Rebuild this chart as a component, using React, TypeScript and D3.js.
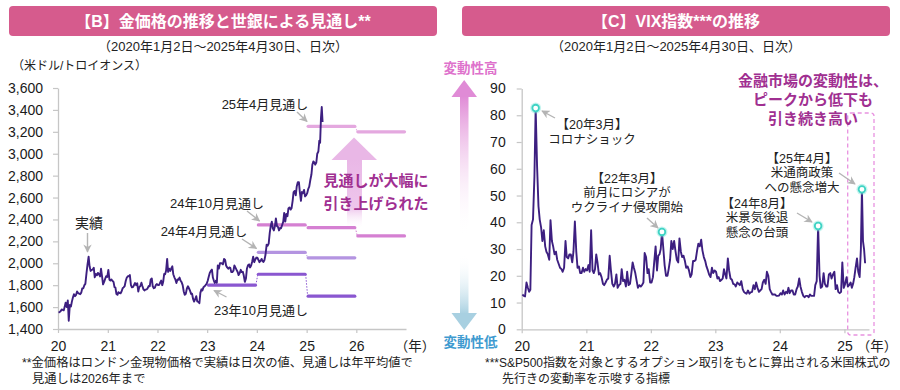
import React, { useEffect, useRef } from 'react';
import * as d3 from 'd3';

// Latin first (compact line box), Japanese glyphs fall back to Noto CJK
const JP = '"Liberation Sans", "Noto Sans CJK JP", sans-serif';
const NUM = '"Liberation Sans", Arial, sans-serif';

// London gold spot (USD/oz), four readings per month, 2020-01 .. 2025-04
const gold2020 = [
  [1550, 1555, 1562, 1578], [1575, 1570, 1602, 1640], [1600, 1660, 1475, 1620],
  [1605, 1650, 1690, 1718], [1700, 1712, 1742, 1728], [1722, 1718, 1732, 1770],
  [1772, 1800, 1812, 1905], [1990, 2060, 1972, 1930], [1940, 1942, 1958, 1872],
  [1902, 1890, 1912, 1900], [1880, 1950, 1878, 1808], [1830, 1860, 1882, 1875],
];
const gold2021 = [
  [1940, 1850, 1842, 1852], [1838, 1830, 1782, 1778], [1720, 1712, 1736, 1728],
  [1726, 1742, 1772, 1780], [1792, 1840, 1868, 1882], [1880, 1892, 1800, 1780],
  [1782, 1802, 1820, 1800], [1818, 1742, 1782, 1792], [1822, 1792, 1762, 1752],
  [1760, 1762, 1770, 1792], [1790, 1850, 1862, 1790], [1772, 1778, 1802, 1810],
];
const gold2022 = [
  [1800, 1802, 1822, 1842], [1800, 1832, 1902, 1900], [1932, 2040, 1922, 1950],
  [1930, 1952, 1972, 1900], [1872, 1850, 1820, 1852], [1850, 1870, 1840, 1828],
  [1800, 1742, 1712, 1722], [1770, 1790, 1772, 1750], [1720, 1722, 1672, 1650],
  [1672, 1700, 1652, 1648], [1636, 1730, 1762, 1752], [1782, 1790, 1800, 1812],
];
const gold2023 = [
  [1840, 1880, 1912, 1930], [1942, 1870, 1842, 1820], [1840, 1822, 1980, 1952],
  [2000, 2002, 1998, 1990], [2040, 2030, 1980, 1962], [1950, 1962, 1958, 1920],
  [1920, 1932, 1980, 1960], [1940, 1920, 1892, 1910], [1940, 1920, 1922, 1888],
  [1830, 1862, 1950, 1982], [1990, 1962, 1980, 2012], [2060, 2010, 2032, 2052],
];
const gold2024 = [
  [2050, 2030, 2010, 2022], [2040, 2020, 2012, 2030], [2080, 2170, 2160, 2180],
  [2280, 2340, 2380, 2320], [2300, 2340, 2410, 2340], [2330, 2300, 2322, 2320],
  [2350, 2380, 2460, 2380], [2450, 2430, 2500, 2510], [2490, 2502, 2570, 2650],
  [2660, 2620, 2700, 2740], [2740, 2650, 2570, 2650], [2640, 2670, 2610, 2620],
];
const gold2025 = [
  [2640, 2680, 2700, 2760], [2810, 2900, 2930, 2920], [2900, 2920, 3000, 3020],
  [3120, 3100, 3320, 3427, 3290],
];

// World Bank outlooks: annual averages starting at the given year
const outlookNames = ['23年10月見通し', '24年4月見通し', '24年10月見通し', '25年4月見通し'];
const outlookStart = [2023, 2024, 2024, 2025];
const outlook2310 = [1800, 1900, 1700];
const outlook2404 = [2100, 2050];
const outlook2410 = [2350, 2325, 2250];
const outlook2504 = [3250, 3200];
const outlookColors = ['#8a57d0', '#b494e1', '#d580d2', '#e4a8df'];

// VIX, four readings per month, 2020-01 .. 2025-04
const vix2020 = [
  [13.0, 12.5, 12.3, 17.5], [15.5, 14.0, 14.8, 39.0], [41.0, 57.0, 82.7, 61.0],
  [46.0, 41.0, 38.0, 33.0], [37.0, 31.0, 29.0, 28.0], [26.0, 40.8, 33.0, 31.0],
  [28.0, 29.0, 26.0, 24.5], [23.0, 22.5, 21.5, 23.0], [33.0, 27.0, 26.5, 28.0],
  [28.0, 25.0, 29.0, 40.3], [29.0, 23.0, 23.5, 21.0], [21.0, 23.0, 21.5, 22.5],
];
const vix2021 = [
  [22.0, 24.0, 21.5, 37.0], [22.0, 21.0, 22.5, 28.0], [25.0, 20.5, 21.0, 19.5],
  [17.0, 16.5, 17.5, 18.5], [19.0, 27.5, 22.0, 17.0], [16.0, 17.0, 20.5, 15.5],
  [16.5, 17.0, 22.5, 18.0], [18.5, 16.0, 21.5, 16.5], [17.0, 20.5, 25.0, 23.0],
  [21.0, 18.0, 15.5, 16.5], [16.0, 16.5, 17.5, 28.5], [27.0, 21.0, 22.5, 17.5],
];
const vix2022 = [
  [17.5, 19.5, 25.0, 31.0], [22.0, 27.5, 28.0, 30.0], [36.4, 30.0, 24.0, 20.0],
  [20.0, 22.5, 26.0, 33.0], [30.0, 33.0, 29.5, 26.0], [25.0, 34.0, 29.0, 27.0],
  [27.5, 25.5, 23.0, 23.5], [22.0, 19.5, 20.5, 25.5], [25.5, 26.0, 29.5, 32.0],
  [31.0, 33.5, 29.5, 27.0], [25.5, 23.5, 22.0, 20.5], [19.5, 23.0, 21.0, 22.0],
];
const vix2023 = [
  [21.5, 19.0, 19.5, 18.0], [18.5, 19.0, 22.5, 20.5], [19.0, 26.5, 22.0, 19.0],
  [18.5, 17.0, 16.8, 16.0], [17.5, 17.0, 16.5, 18.0], [15.0, 14.0, 13.5, 13.3],
  [14.5, 13.3, 13.8, 14.0], [16.5, 15.0, 17.5, 15.5], [14.0, 14.5, 15.0, 17.5],
  [18.5, 17.0, 21.5, 20.0], [15.0, 14.0, 13.0, 13.0], [13.0, 12.5, 12.5, 12.6],
];
const vix2024 = [
  [13.5, 13.0, 14.5, 13.0], [14.0, 13.5, 15.5, 13.5], [14.5, 14.5, 13.0, 13.0],
  [15.0, 16.0, 19.0, 16.0], [14.0, 12.5, 12.0, 12.5], [12.5, 12.0, 13.0, 12.5],
  [12.5, 12.5, 16.5, 18.0], [38.6, 20.0, 15.5, 16.0], [21.0, 17.0, 16.0, 16.0],
  [20.5, 21.0, 19.0, 20.5], [21.5, 15.0, 16.5, 14.0], [13.5, 14.0, 25.0, 15.5],
];
const vix2025 = [
  [17.0, 19.5, 16.0, 16.5], [17.5, 15.5, 17.0, 19.5], [23.0, 26.5, 21.5, 19.5],
  [30.0, 52.3, 33.0, 30.0, 24.7],
];

// peaks that get a marker: [year, month index]
const vixPeaks: [number, number][] = [[2020, 2], [2022, 2], [2024, 7], [2025, 3]];

const goldTicks = d3.range(1400, 3601, 200);
const vixTicks = d3.range(0, 91, 10);
const goldYearTicks = [2020, 2021, 2022, 2023, 2024, 2025, 2026];
const vixYearTicks = [2020, 2021, 2022, 2023, 2024, 2025];

type Pt = { date: Date; value: number };

const toSeries = (years: number[][][]): Pt[] => {
  const out: Pt[] = [];
  years.forEach((months, yi) =>
    months.forEach((vals, mi) => {
      const y = 2020 + yi;
      const dim = new Date(y, mi + 1, 0).getDate();
      vals.forEach((v, k) => {
        out.push({ date: new Date(y, mi, 1 + Math.round(((k + 0.5) * dim) / vals.length)), value: v });
      });
    })
  );
  return out;
};

const App: React.FC = () => {
  const ref = useRef<SVGSVGElement>(null);

  useEffect(() => {
    if (!ref.current) return;
    const svg = d3.select(ref.current);
    svg.selectAll('*').remove();

    const defs = svg.append('defs');
    defs.append('marker')
      .attr('id', 'arr').attr('viewBox', '0 0 10 10').attr('refX', 9).attr('refY', 5)
      .attr('markerWidth', 6).attr('markerHeight', 6).attr('orient', 'auto')
      .append('path').attr('d', 'M0,0 L10,5 L0,10 L3,5 z').attr('fill', '#b4b4b4');
    const grad = (id: string, stops: [number, string, number][]) => {
      const lg = defs.append('linearGradient').attr('id', id).attr('x1', 0).attr('x2', 0).attr('y1', 0).attr('y2', 1);
      stops.forEach(([o, c, op]) => lg.append('stop').attr('offset', o).attr('stop-color', c).attr('stop-opacity', op));
    };
    grad('bigUp', [[0, '#e9b7e6', 1], [0.7, '#eec6ec', 1], [1, '#ffffff', 0]]);
    grad('pinkUp', [[0, '#e08bd6', 1], [1, '#ffffff', 0]]);
    grad('blueDown', [[0, '#ffffff', 0], [1, '#a8d0e1', 1]]);

    // one <text>, one or more lines: each line is [x, y, string]
    const txt = (lines: [number, number, string][], size: number, opts: any = {}) => {
      const t = svg.append('text')
        .attr('font-family', opts.font || JP)
        .attr('font-size', size)
        .attr('font-weight', opts.bold ? 'bold' : 'normal')
        .attr('fill', opts.fill || '#222')
        .attr('text-anchor', opts.anchor || 'start');
      lines.forEach(([x, y, s]) => t.append('tspan').attr('x', x).attr('y', y).text(s));
      return t;
    };
    const arrow = (x1: number, y1: number, x2: number, y2: number) =>
      svg.append('line').attr('x1', x1).attr('y1', y1).attr('x2', x2).attr('y2', y2)
        .attr('stroke', '#b4b4b4').attr('stroke-width', 1.4).attr('marker-end', 'url(#arr)');

    // ---- title bars
    [[9, 223, '【B】金価格の推移と世銀による見通し**'], [462, 676, '【C】VIX指数***の推移']].forEach(([x, cx, t]) => {
      svg.append('rect').attr('x', x as number).attr('y', 6).attr('width', 428).attr('height', 30)
        .attr('rx', 4).attr('fill', '#d65b8d');
      txt([[cx as number, 27, t as string]], 16, { bold: true, fill: '#fff', anchor: 'middle' });
      txt([[cx as number, 50.5, '（2020年1月2日～2025年4月30日、日次）']], 13, { anchor: 'middle' });
    });

    // =========== LEFT: gold
    const gx = d3.scaleTime().domain([new Date(2020, 0, 1), new Date(2027, 0, 1)]).range([58, 406]);
    const gy = d3.scaleLinear().domain([1400, 3600]).range([329, 88]);

    txt([[12, 70, '（米ドル/トロイオンス）']], 12);

    const styleAxis = (g: any) => {
      g.select('.domain').attr('stroke', '#c6c6c6').attr('stroke-width', 1.3);
      g.selectAll('.tick line').attr('stroke', '#c6c6c6').attr('stroke-width', 1.2);
      g.selectAll('.tick text').attr('font-family', NUM).attr('font-size', 14).attr('fill', '#1a1a1a');
    };

    svg.append('g').attr('transform', 'translate(58,0)')
      .call(d3.axisLeft(gy).tickValues(goldTicks).tickFormat(d3.format(',') as any).tickSize(5).tickSizeOuter(0).tickPadding(10))
      .call(styleAxis);
    svg.append('g').attr('transform', 'translate(0,329)')
      .call(d3.axisBottom(gx).tickValues(goldYearTicks.map(y => new Date(y, 0, 1)))
        .tickFormat((d: any) => String(d.getFullYear() % 100)).tickSize(4).tickSizeOuter(0).tickPadding(8))
      .call(styleAxis);
    txt([[415, 350.5, '（年）']], 13.5, { anchor: 'middle' });

    // big pink arrow behind text
    svg.append('rect').attr('x', 347).attr('y', 159).attr('width', 15).attr('height', 70).attr('fill', 'url(#bigUp)');
    svg.append('path').attr('d', 'M331.5,160 L354,137.5 L377,160 Z').attr('fill', '#e9b7e6');

    // outlook segments
    const outlooks = [outlook2310, outlook2404, outlook2410, outlook2504];
    outlooks.forEach((vals, i) => {
      const s0 = outlookStart[i];
      const col = outlookColors[i];
      vals.forEach((v, k) => {
        const xa = gx(new Date(s0 + k, 0, 1)) + 1.5;
        const xb = gx(new Date(s0 + k + 1, 0, 1)) - 1.5;
        svg.append('line').attr('x1', xa).attr('x2', xb).attr('y1', gy(v)).attr('y2', gy(v))
          .attr('stroke', col).attr('stroke-width', 3.2).attr('stroke-linecap', 'round');
        if (k < vals.length - 1) {
          const xc = gx(new Date(s0 + k + 1, 0, 1));
          svg.append('line').attr('x1', xc - 1).attr('x2', xc + 1).attr('y1', gy(v)).attr('y2', gy(vals[k + 1]))
            .attr('stroke', col).attr('stroke-width', 1).attr('stroke-dasharray', '1.5,1.5');
        }
      });
    });

    const goldSeries = toSeries([gold2020, gold2021, gold2022, gold2023, gold2024, gold2025]);
    svg.append('path').datum(goldSeries)
      .attr('d', d3.line<Pt>().x(d => gx(d.date)).y(d => gy(d.value)) as any)
      .attr('fill', 'none').attr('stroke', '#3d1f80').attr('stroke-width', 1.9).attr('stroke-linejoin', 'round');

    // labels
    txt([[89, 228, '実績']], 14, { anchor: 'middle' });
    arrow(87.5, 233, 87.5, 252);
    txt([[265, 109, outlookNames[3]]], 13, { anchor: 'middle' });
    arrow(297, 112, 307, 121.5);
    txt([[217, 208, outlookNames[2]]], 13, { anchor: 'middle' });
    arrow(247, 211, 259.5, 221);
    txt([[204, 236, outlookNames[1]]], 13, { anchor: 'middle' });
    arrow(242, 239, 256.5, 248.5);
    txt([[261, 315, outlookNames[0]]], 13, { anchor: 'middle' });
    arrow(226.5, 297, 214, 290.5);

    txt([[376, 186, '見通しが大幅に'], [376, 209, '引き上げられた']], 15,
      { bold: true, fill: '#a02f91', anchor: 'middle' });

    txt([[22, 367, '**金価格はロンドン金現物価格で実績は日次の値、見通しは年平均値で'],
      [32, 383, '見通しは2026年まで']], 12.3);

    // =========== RIGHT: VIX
    const vx = d3.scaleTime().domain([new Date(2020, 0, 1), new Date(2025, 4, 20)]).range([521.7, 869]);
    const vy = d3.scaleLinear().domain([0, 90]).range([329.3, 88.5]);

    // volatility arrows
    svg.append('rect').attr('x', 460).attr('y', 96).attr('width', 8.5).attr('height', 140).attr('fill', 'url(#pinkUp)');
    svg.append('path').attr('d', 'M451.5,97 L464.2,80 L477,97 Z').attr('fill', '#e08bd6');
    svg.append('rect').attr('x', 460).attr('y', 254).attr('width', 8.5).attr('height', 60).attr('fill', 'url(#blueDown)');
    svg.append('path').attr('d', 'M451.5,313 L464.2,330 L477,313 Z').attr('fill', '#a8d0e1');
    txt([[470.5, 73, '変動性高']], 13.5, { bold: true, fill: '#de72cc', anchor: 'middle' });
    txt([[470.5, 347, '変動性低']], 13.5, { bold: true, fill: '#3f9bd0', anchor: 'middle' });

    svg.append('g').attr('transform', 'translate(521.7,0)')
      .call(d3.axisLeft(vy).tickValues(vixTicks).tickSize(5).tickSizeOuter(0).tickPadding(11))
      .call(styleAxis);
    svg.append('g').attr('transform', 'translate(0,329.3)')
      .call(d3.axisBottom(vx).tickValues(vixYearTicks.map(y => new Date(y, 0, 1)))
        .tickFormat((d: any) => String(d.getFullYear() % 100)).tickSize(4).tickSizeOuter(0).tickPadding(8))
      .call(styleAxis);
    txt([[877, 350.5, '（年）']], 13.5, { anchor: 'middle' });

    // dashed highlight box
    svg.append('rect').attr('x', 847.7).attr('y', 113).attr('width', 26.3).attr('height', 222)
      .attr('rx', 3).attr('fill', 'none').attr('stroke', '#e892e0').attr('stroke-width', 1.3)
      .attr('stroke-dasharray', '4,3');

    const vixSeries = toSeries([vix2020, vix2021, vix2022, vix2023, vix2024, vix2025]);
    svg.append('path').datum(vixSeries)
      .attr('d', d3.line<Pt>().x(d => vx(d.date)).y(d => vy(d.value)) as any)
      .attr('fill', 'none').attr('stroke', '#3d1f80').attr('stroke-width', 1.9).attr('stroke-linejoin', 'round');

    vixPeaks.forEach(([yr, mo]) => {
      const pts = vixSeries.filter(d => d.date.getFullYear() === yr && d.date.getMonth() === mo);
      const p = pts.reduce((a, b) => (b.value > a.value ? b : a));
      const cx = vx(p.date);
      const cy = vy(p.value);
      svg.append('circle').attr('cx', cx).attr('cy', cy).attr('r', 5.5).attr('fill', '#7ee6dc').attr('opacity', 0.45);
      svg.append('circle').attr('cx', cx).attr('cy', cy).attr('r', 3.3).attr('fill', '#fff')
        .attr('stroke', '#3fd3c4').attr('stroke-width', 1.8);
    });

    const ann = 12.5;
    const lh = 14.6;
    const block = (cx: number, top: number, lines: string[]) =>
      txt(lines.map((s, i) => [cx, top + i * lh, s] as [number, number, string]), ann, { anchor: 'middle' });
    block(592, 129, ['【20年3月】', 'コロナショック']);
    arrow(555, 118, 542, 111);
    block(627, 182.5, ['【22年3月】', '前月にロシアが', 'ウクライナ侵攻開始']);
    arrow(647, 218, 658, 228);
    block(757, 207.5, ['【24年8月】', '米景気後退', '懸念の台頭']);
    arrow(797, 213, 812, 222);
    block(802, 162.5, ['【25年4月】', '米通商政策', 'への懸念増大']);
    arrow(839, 173, 855, 184);

    txt([[813, 86, '金融市場の変動性は、'], [813, 105, 'ピークから低下も'], [813, 124, '引き続き高い']], 15,
      { bold: true, fill: '#a02f91', anchor: 'middle' });

    txt([[485, 367, '***S&P500指数を対象とするオプション取引をもとに算出される米国株式の'],
      [502, 383, '先行きの変動率を示唆する指標']], 12);
  }, []);

  return (
    <svg
      ref={ref}
      width={900}
      height={390}
      style={{ position: 'absolute', left: 0, top: 0, background: '#fff' }}
    />
  );
};

export default App;
